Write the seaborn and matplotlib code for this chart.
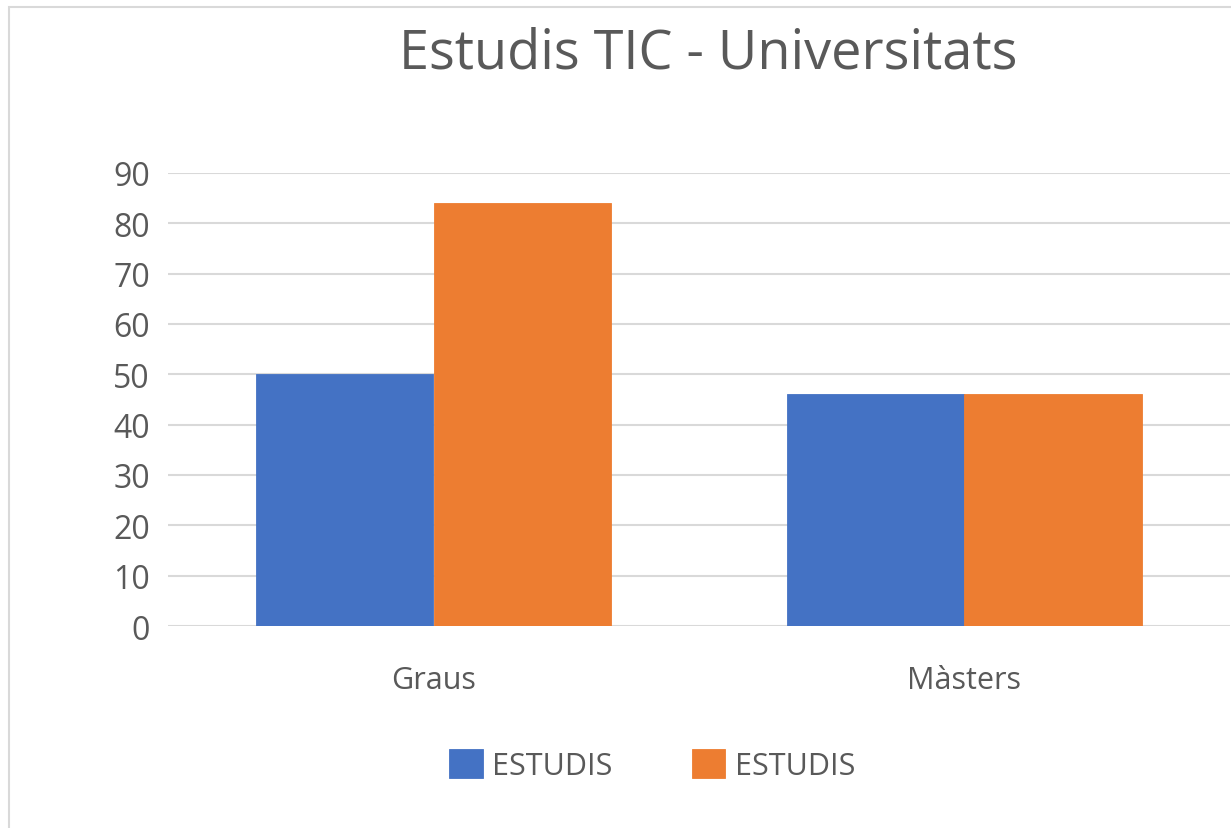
import pandas as pd
import seaborn as sns
import matplotlib.pyplot as plt
from matplotlib.patches import Rectangle

categories = ['Graus', 'Màsters']
series_names = ['ESTUDIS', 'ESTUDIS ']
serie_1 = [50, 46]
serie_2 = [84, 46]
yticks = [0, 10, 20, 30, 40, 50, 60, 70, 80, 90]

df = pd.DataFrame({
    'Categoria': categories * 2,
    'Serie': [series_names[0]] * 2 + [series_names[1]] * 2,
    'Valor': serie_1 + serie_2,
})

sns.set_theme(style='white')
plt.rcParams['font.family'] = ['Open Sans', 'DejaVu Sans']

fig = plt.figure(figsize=(12.31, 8.29), dpi=100)
ax = fig.add_axes([168 / 1231, 1 - 627 / 829, 1062 / 1231, (627 - 174) / 829])

sns.barplot(data=df, x='Categoria', y='Valor', hue='Serie',
            palette=['#4472C4', '#ED7D31'], width=0.667,
            saturation=1, linewidth=0, ax=ax, legend=True)
# close the thin seam between touching bars
for p in ax.patches:
    p.set_edgecolor(p.get_facecolor())
    p.set_linewidth(0.6)

ax.set_xlim(-0.5, 1.5)
ax.set_ylim(0, 90)
ax.set_yticks(yticks)
ax.yaxis.grid(True, color='#D9D9D9', linewidth=1.5)
ax.set_axisbelow(True)
for s in ax.spines.values():
    s.set_visible(False)
ax.tick_params(axis='y', labelsize=23, colors='#595959', length=0, pad=13)
ax.tick_params(axis='x', labelsize=22, colors='#595959', length=0, pad=28)
ax.set_xlabel('')
ax.set_ylabel('')

fig.text(708 / 1231, 1 - 54 / 829, 'Estudis TIC - Universitats',
         ha='center', va='center', fontsize=39, color='#595959')

handles, labels = ax.get_legend_handles_labels()
ax.legend(handles, ['ESTUDIS', 'ESTUDIS'], loc='center',
          bbox_to_anchor=(652 / 1231, 1 - 766 / 829),
          bbox_transform=fig.transFigure, ncol=2, frameon=False,
          fontsize=22, labelcolor='#595959', handlelength=1.1,
          handleheight=1.1, handletextpad=0.3, columnspacing=2.6)

fig.add_artist(Rectangle((9 / 1231, -0.05), 1.1, 1 - 8 / 829 + 0.05,
                         transform=fig.transFigure, fill=False,
                         edgecolor='#D9D9D9', linewidth=1.5))

fig.savefig('out.png', dpi=100, facecolor='white')
